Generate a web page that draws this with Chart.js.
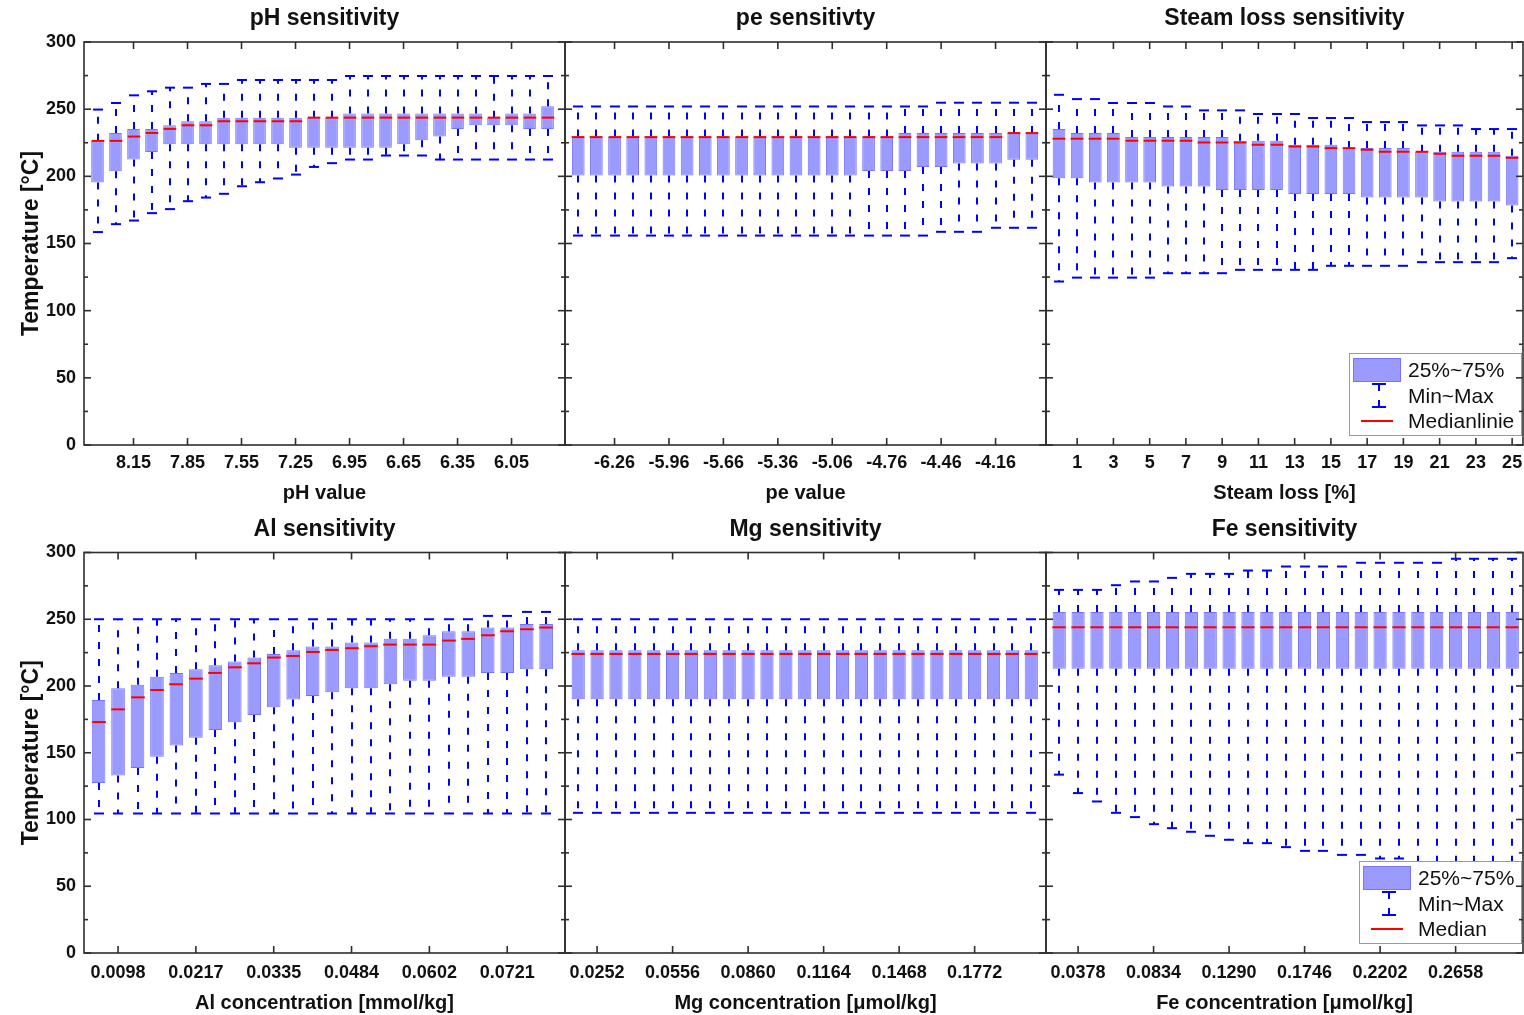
<!DOCTYPE html>
<html>
<head>
<meta charset="utf-8">
<title>Temperature sensitivity</title>
<script src="https://cdn.jsdelivr.net/npm/chart.js@4.4.1/dist/chart.umd.min.js"></script>
<style>
  html, body { margin: 0; padding: 0; background: #fff; }
  #wrap { position: relative; width: 1524px; height: 1015px; overflow: hidden; }
  #wrap canvas { position: absolute; left: 0; top: 0; }
</style>
</head>
<body>
<div id="wrap"></div>
<script>
// ---------- pH sensitivity ----------
const phCategories = ['8.35','8.25','8.15','8.05','7.95','7.85','7.75','7.65','7.55','7.45','7.35','7.25','7.15','7.05','6.95','6.85','6.75','6.65','6.55','6.45','6.35','6.25','6.15','6.05','5.95','5.85'];
const phTickLabels = ['8.15','7.85','7.55','7.25','6.95','6.65','6.35','6.05'];
const phMin    = [158.5,164.4,167.1,172.6,175.6,181.5,184.2,187.0,192.6,195.6,198.4,201.3,207.0,209.8,212.5,212.5,215.5,215.5,215.5,212.5,212.5,212.5,212.5,212.5,212.5,212.5];
const phQ1     = [195.4,203.8,212.5,218.2,223.9,223.9,223.9,223.9,223.9,223.9,223.9,221.2,221.2,221.2,221.2,221.2,221.2,223.9,226.9,229.6,235.3,238.0,238.0,238.0,235.3,235.3];
const phMedian = [226.4,226.4,229.6,232.3,235.3,238.0,238.0,241.0,241.0,241.0,241.0,241.0,243.7,243.7,243.7,243.7,243.7,243.7,243.7,243.7,243.7,243.7,243.7,243.7,243.7,243.7];
const phQ3     = [226.4,232.3,235.3,235.3,238.0,241.0,241.0,243.7,243.7,243.7,243.7,243.7,243.7,243.7,246.7,246.7,246.7,246.7,246.7,246.7,246.7,246.7,243.7,246.7,246.7,252.2];
const phMax    = [249.7,254.6,260.3,263.3,266.0,266.0,268.8,268.8,271.7,271.7,271.7,271.7,271.7,271.7,274.7,274.7,274.7,274.7,274.7,274.7,274.7,274.7,274.7,274.7,274.7,274.7];

// ---------- pe sensitivity ----------
const peCategories = ['-6.46','-6.36','-6.26','-6.16','-6.06','-5.96','-5.86','-5.76','-5.66','-5.56','-5.46','-5.36','-5.26','-5.16','-5.06','-4.96','-4.86','-4.76','-4.66','-4.56','-4.46','-4.36','-4.26','-4.16','-4.06','-3.96'];
const peTickLabels = ['-6.26','-5.96','-5.66','-5.36','-5.06','-4.76','-4.46','-4.16'];
const peMin    = [155.9,155.9,155.9,155.9,155.9,155.9,155.9,155.9,155.9,155.9,155.9,155.9,155.9,155.9,155.9,155.9,155.9,155.9,155.9,155.9,158.7,158.7,158.7,161.7,161.7,161.7];
const peQ1     = [200.6,200.6,200.6,200.6,200.6,200.6,200.6,200.6,200.6,200.6,200.6,200.6,200.6,200.6,200.6,200.6,203.9,203.9,203.9,206.9,206.9,209.6,209.6,209.6,212.3,212.3];
const peMedian = [229.2,229.2,229.2,229.2,229.2,229.2,229.2,229.2,229.2,229.2,229.2,229.2,229.2,229.2,229.2,229.2,229.2,229.2,229.2,229.2,229.2,229.2,229.2,229.2,232.2,232.2];
const peQ3     = [229.7,229.7,229.7,229.7,229.7,229.7,229.7,229.7,229.7,229.7,229.7,229.7,229.7,229.7,229.7,229.7,229.7,229.7,232.2,232.2,232.2,232.2,232.2,232.2,232.2,232.2];
const peMax    = [252.0,252.0,252.0,252.0,252.0,252.0,252.0,252.0,252.0,252.0,252.0,252.0,252.0,252.0,252.0,252.0,252.0,252.0,252.0,252.0,254.8,254.8,254.8,254.8,254.8,254.8];

// ---------- Steam loss sensitivity ----------
const steamCategories = ['0','1','2','3','4','5','6','7','8','9','10','11','12','13','14','15','16','17','18','19','20','21','22','23','24','25'];
const steamTickLabels = ['1','3','5','7','9','11','13','15','17','19','21','23','25'];
const steamMin    = [121.7,124.6,124.6,124.6,124.6,124.6,127.9,127.9,127.9,127.9,130.4,130.4,130.4,130.4,130.4,133.4,133.4,133.4,133.4,133.4,136.1,136.1,136.1,136.1,136.1,139.1];
const steamQ1     = [198.5,198.5,195.5,195.5,195.5,195.5,192.5,192.5,192.5,189.8,189.8,189.8,189.8,186.8,186.8,186.8,186.8,184.3,184.3,184.3,184.3,181.3,181.3,181.3,181.3,178.3];
const steamMedian = [228.0,228.0,228.0,228.0,226.5,226.5,226.5,226.5,225.2,225.2,225.2,223.5,223.5,222.2,222.2,221.0,221.0,219.8,218.3,218.3,218.3,216.8,215.3,215.3,215.3,213.8];
const steamQ3     = [235.2,232.2,232.2,232.2,229.2,229.2,229.2,229.2,229.2,229.2,226.5,226.5,226.5,223.5,223.5,223.5,221.0,221.0,221.0,221.0,218.3,218.3,218.3,218.3,218.3,215.3];
const steamMax    = [260.7,257.5,257.5,254.6,254.6,254.6,252.0,252.0,249.1,249.1,249.1,246.4,246.4,246.4,243.4,243.4,243.4,240.4,240.4,240.4,237.9,237.9,237.9,235.2,235.2,235.2];

// ---------- Al sensitivity ----------
const alCategories = ['','0.0098','','','','0.0217','','','','0.0335','','','','0.0484','','','','0.0602','','','','0.0721','',''];
const alTickLabels = ['0.0098','0.0217','0.0335','0.0484','0.0602','0.0721'];
const alMin    = [104.5,104.5,104.5,104.5,104.5,104.5,104.5,104.5,104.5,104.5,104.5,104.5,104.5,104.5,104.5,104.5,104.5,104.5,104.5,104.5,104.5,104.5,104.5,104.5];
const alQ1     = [127.3,133.0,138.5,147.0,155.5,161.3,167.0,172.8,178.3,184.0,189.8,192.5,195.3,198.3,198.3,201.3,204.0,204.0,207.0,207.0,209.8,209.8,212.5,212.5];
const alMedian = [173.0,182.5,191.5,197.0,201.3,205.5,209.8,214.0,217.0,221.3,222.5,225.5,227.0,228.3,229.8,231.0,231.0,231.0,234.0,235.3,238.0,241.0,242.5,243.8];
const alQ3     = [189.5,198.3,201.0,207.0,209.8,212.5,215.5,218.3,221.3,224.0,226.8,229.5,229.5,232.5,232.5,235.3,235.3,238.0,241.0,241.0,243.8,243.8,246.5,246.5];
const alMax    = [250.0,250.0,250.0,250.0,250.0,250.0,250.0,250.0,250.0,250.0,250.0,250.0,250.0,250.0,250.0,250.0,250.0,250.0,250.0,250.0,252.5,252.5,255.5,255.5];

// ---------- Mg sensitivity ----------
const mgCategories = ['0.0176','0.0252','0.0328','0.0404','0.0480','0.0556','0.0632','0.0708','0.0784','0.0860','0.0936','0.1012','0.1088','0.1164','0.1240','0.1316','0.1392','0.1468','0.1544','0.1620','0.1696','0.1772','0.1848','0.1924','0.2000'];
const mgTickLabels = ['0.0252','0.0556','0.0860','0.1164','0.1468','0.1772'];
const mgMin    = [105,105,105,105,105,105,105,105,105,105,105,105,105,105,105,105,105,105,105,105,105,105,105,105,105];
const mgQ1     = [190,190,190,190,190,190,190,190,190,190,190,190,190,190,190,190,190,190,190,190,190,190,190,190,190];
const mgMedian = [224,224,224,224,224,224,224,224,224,224,224,224,224,224,224,224,224,224,224,224,224,224,224,224,224];
const mgQ3     = [226.7,226.7,226.7,226.7,226.7,226.7,226.7,226.7,226.7,226.7,226.7,226.7,226.7,226.7,226.7,226.7,226.7,226.7,226.7,226.7,226.7,226.7,226.7,226.7,226.7];
const mgMax    = [250,250,250,250,250,250,250,250,250,250,250,250,250,250,250,250,250,250,250,250,250,250,250,250,250];

// ---------- Fe sensitivity ----------
const feCategories = ['0.0264','0.0378','0.0492','0.0606','0.0720','0.0834','0.0948','0.1062','0.1176','0.1290','0.1404','0.1518','0.1632','0.1746','0.1860','0.1974','0.2088','0.2202','0.2316','0.2430','0.2544','0.2658','0.2772','0.2886','0.3000'];
const feTickLabels = ['0.0378','0.0834','0.1290','0.1746','0.2202','0.2658'];
const feMin    = [133.6,119.8,113.5,105.0,101.8,96.5,93.5,90.8,87.8,84.8,82.3,82.3,79.3,76.5,76.5,73.5,73.5,70.8,70.8,68.0,67.0,66.0,66.0,65.0,65.0];
const feQ1     = [213,213,213,213,213,213,213,213,213,213,213,213,213,213,213,213,213,213,213,213,213,213,213,213,213];
const feMedian = [244,244,244,244,244,244,244,244,244,244,244,244,244,244,244,244,244,244,244,244,244,244,244,244,244];
const feQ3     = [255.5,255.5,255.5,255.5,255.5,255.5,255.5,255.5,255.5,255.5,255.5,255.5,255.5,255.5,255.5,255.5,255.5,255.5,255.5,255.5,255.5,255.5,255.5,255.5,255.5];
const feMax    = [272.0,272.0,272.0,275.5,278.3,278.3,281.0,284.0,284.0,284.0,286.5,286.5,289.5,289.5,289.5,289.5,292.3,292.3,292.3,292.3,292.3,295.3,295.3,295.3,295.3];

const yTitle = 'Temperature [°C]';
const legendLabelsTop = ['25%~75%', 'Min~Max', 'Medianlinie'];
const legendLabelsBottom = ['25%~75%', 'Min~Max', 'Median'];

// ---------- layout and style ----------
const FONT = '"Liberation Sans", Arial, Helvetica, sans-serif';
const TEXT = '#111111';
const FRAME = '#2e2e2e';
const BOX_FILL = '#9b9bff';
const BOX_EDGE = '#7474ff';
const WHISKER = '#0000ff';
const MEDIAN = '#ff0000';
const PAGE_W = 1524, PAGE_H = 1015;
const COLS = [{ left: 84, right: 565 }, { left: 565, right: 1046 }, { left: 1046, right: 1523 }];
const ROWS = [
  { top: 42, bottom: 445, axisH: 60, tickPad: 7 },
  { top: 552.5, bottom: 953, axisH: 62, tickPad: 9 }
];

const panels = [
  { row: 0, col: 0, title: 'pH sensitivity', xTitle: 'pH value', cats: phCategories, tickLabels: phTickLabels,
    min: phMin, q1: phQ1, med: phMedian, q3: phQ3, max: phMax, xRange: [-0.75, 25.97] },
  { row: 0, col: 1, title: 'pe sensitivty', xTitle: 'pe value', cats: peCategories, tickLabels: peTickLabels,
    min: peMin, q1: peQ1, med: peMedian, q3: peQ3, max: peMax, xRange: [-0.73, 25.78] },
  { row: 0, col: 2, title: 'Steam loss sensitivity', xTitle: 'Steam loss [%]', cats: steamCategories, tickLabels: steamTickLabels,
    min: steamMin, q1: steamQ1, med: steamMedian, q3: steamQ3, max: steamMax, xRange: [-0.72, 25.6], legend: legendLabelsTop },
  { row: 1, col: 0, title: 'Al sensitivity', xTitle: 'Al concentration [mmol/kg]', cats: alCategories, tickLabels: alTickLabels,
    min: alMin, q1: alQ1, med: alMedian, q3: alQ3, max: alMax, xRange: [-0.75, 23.97] },
  { row: 1, col: 1, title: 'Mg sensitivity', xTitle: 'Mg concentration [μmol/kg]', cats: mgCategories, tickLabels: mgTickLabels,
    min: mgMin, q1: mgQ1, med: mgMedian, q3: mgQ3, max: mgMax, xRange: [-0.7, 24.78] },
  { row: 1, col: 2, title: 'Fe sensitivity', xTitle: 'Fe concentration [μmol/kg]', cats: feCategories, tickLabels: feTickLabels,
    min: feMin, q1: feQ1, med: feMedian, q3: feQ3, max: feMax, xRange: [-0.7, 24.57], legend: legendLabelsBottom }
];

function seg(ctx, x0, y0, x1, y1) {
  ctx.beginPath(); ctx.moveTo(x0, y0); ctx.lineTo(x1, y1); ctx.stroke();
}

// Whiskers, caps, medians, frame, inner ticks, title and legend for one panel
function panelPlugin(p) {
  return {
    id: 'boxPanel',
    afterDatasetsDraw(chart) {
      const { ctx, scales: { x, y } } = chart;
      const bars = chart.getDatasetMeta(0).data;
      ctx.save();
      ctx.lineCap = 'butt';
      p.q1.forEach((q1, i) => {
        const px = Math.round(x.getPixelForValue(i));
        const half = bars[i].width / 2;
        const yMin = y.getPixelForValue(p.min[i]);
        const yQ1 = y.getPixelForValue(q1);
        const yMed = y.getPixelForValue(p.med[i]);
        const yQ3 = y.getPixelForValue(p.q3[i]);
        const yMax = y.getPixelForValue(p.max[i]);
        ctx.strokeStyle = WHISKER;
        ctx.lineWidth = 2;
        ctx.setLineDash([7, 10]);
        seg(ctx, px, yQ3, px, yMax);
        seg(ctx, px, yQ1, px, yMin);
        ctx.setLineDash([]);
        seg(ctx, px - 5, yMax, px + 5, yMax);
        seg(ctx, px - 5, yMin, px + 5, yMin);
        ctx.strokeStyle = MEDIAN;
        seg(ctx, px - half, yMed, px + half, yMed);
      });
      ctx.restore();
    },
    afterDraw(chart) {
      const { ctx, chartArea: ca, scales: { x, y } } = chart;
      ctx.save();

      // legend
      if (p.legend) {
        ctx.font = `21px ${FONT}`;
        const tw = Math.max(...p.legend.map(t => ctx.measureText(t).width));
        const right = ca.right - 1, bottom = ca.bottom - 9, h = 83;
        const left = Math.round(right - (4 + 48 + 7 + tw + 8)), top = bottom - h;
        ctx.fillStyle = '#ffffff';
        ctx.fillRect(left, top, right - left, h);
        ctx.strokeStyle = '#9a9a9a';
        ctx.lineWidth = 1;
        ctx.strokeRect(left + 0.5, top + 0.5, right - left - 1, h - 1);
        const rows = [bottom - 66, bottom - 40, bottom - 15];
        ctx.fillStyle = BOX_FILL;
        ctx.fillRect(left + 4, rows[0] - 12, 48, 24);
        ctx.strokeStyle = BOX_EDGE;
        ctx.strokeRect(left + 4.5, rows[0] - 11.5, 47, 23);
        const wx = left + 30;
        ctx.strokeStyle = WHISKER;
        ctx.lineWidth = 2;
        seg(ctx, wx - 7, rows[1] - 12, wx + 7, rows[1] - 12);
        seg(ctx, wx - 7, rows[1] + 11, wx + 7, rows[1] + 11);
        ctx.setLineDash([7, 9]);
        seg(ctx, wx, rows[1] - 12, wx, rows[1] + 11);
        ctx.setLineDash([]);
        ctx.strokeStyle = MEDIAN;
        seg(ctx, left + 12, rows[2], left + 44, rows[2]);
        ctx.fillStyle = TEXT;
        ctx.textAlign = 'left';
        ctx.textBaseline = 'middle';
        p.legend.forEach((t, k) => ctx.fillText(t, left + 59, rows[k] + 1));
      }

      // frame with inward ticks
      ctx.strokeStyle = FRAME;
      ctx.lineWidth = 1.6;
      ctx.strokeRect(ca.left, ca.top, ca.right - ca.left, ca.bottom - ca.top);
      y.ticks.forEach((t, k) => {
        const yy = y.getPixelForValue(t.value);
        seg(ctx, ca.left, yy, ca.left + 7, yy);
        seg(ctx, ca.right, yy, ca.right - 7, yy);
        if (k > 0) {
          const ym = y.getPixelForValue((t.value + y.ticks[k - 1].value) / 2);
          seg(ctx, ca.left, ym, ca.left + 4, ym);
          seg(ctx, ca.right, ym, ca.right - 4, ym);
        }
      });
      x.ticks.forEach(t => {
        const xx = x.getPixelForValue(t.value);
        seg(ctx, xx, ca.bottom, xx, ca.bottom - 7);
        seg(ctx, xx, ca.top, xx, ca.top + 7);
      });

      // panel title
      ctx.fillStyle = TEXT;
      ctx.font = `bold 23px ${FONT}`;
      ctx.textAlign = 'center';
      ctx.textBaseline = 'middle';
      ctx.fillText(p.title, (ca.left + ca.right) / 2, ca.top - 23);
      ctx.restore();
    }
  };
}

const wrap = document.getElementById('wrap');
panels.forEach(p => {
  const colGeo = COLS[p.col], rowGeo = ROWS[p.row];
  const first = p.col === 0;
  const yW = first ? colGeo.left : 0;
  const canvas = document.createElement('canvas');
  canvas.width = PAGE_W;
  canvas.height = PAGE_H;
  canvas.style.width = PAGE_W + 'px';
  canvas.style.height = PAGE_H + 'px';
  wrap.appendChild(canvas);

  const tickIdx = p.cats.map((c, i) => (p.tickLabels.includes(c) ? i : -1)).filter(i => i >= 0);

  new Chart(canvas, {
    type: 'bar',
    data: {
      datasets: [{
        data: p.q1.map((v, i) => ({ x: i, y: [v, p.q3[i]] })),
        backgroundColor: BOX_FILL,
        borderColor: BOX_EDGE,
        borderWidth: 1,
        borderSkipped: false,
        barPercentage: 0.7,
        categoryPercentage: 1
      }]
    },
    options: {
      responsive: false,
      animation: false,
      events: [],
      devicePixelRatio: 1,
      layout: {
        padding: {
          left: colGeo.left - yW,
          right: PAGE_W - colGeo.right,
          top: rowGeo.top,
          bottom: PAGE_H - rowGeo.bottom - rowGeo.axisH
        }
      },
      plugins: { legend: { display: false }, tooltip: { enabled: false }, title: { display: false } },
      scales: {
        x: {
          type: 'linear',
          min: p.xRange[0],
          max: p.xRange[1],
          offset: false,
          grid: { display: false, drawTicks: false },
          border: { display: false },
          afterBuildTicks: s => { s.ticks = tickIdx.map(v => ({ value: v })); },
          afterFit: s => { s.height = rowGeo.axisH; s.paddingLeft = 0; s.paddingRight = 0; },
          ticks: {
            autoSkip: false, maxRotation: 0, minRotation: 0, padding: rowGeo.tickPad, color: TEXT,
            font: { family: FONT, size: 18, weight: 'bold' },
            callback: v => p.cats[Math.round(v)] || ''
          },
          title: {
            display: true, text: p.xTitle, color: TEXT,
            font: { family: FONT, size: 20, weight: 'bold' },
            padding: { top: 0, bottom: 0 }
          }
        },
        y: {
          min: 0,
          max: 300,
          grid: { display: false, drawTicks: false },
          border: { display: false },
          afterFit: s => { s.width = yW; s.paddingTop = 0; s.paddingBottom = 0; },
          ticks: {
            display: first, stepSize: 50, padding: 8, color: TEXT,
            font: { family: FONT, size: 18, weight: 'bold' }
          },
          title: {
            display: first, text: yTitle, color: TEXT,
            font: { family: FONT, size: 23, weight: 'bold' },
            padding: { top: 18, bottom: 0 }
          }
        }
      }
    },
    plugins: [panelPlugin(p)]
  });
});
</script>
</body>
</html>
